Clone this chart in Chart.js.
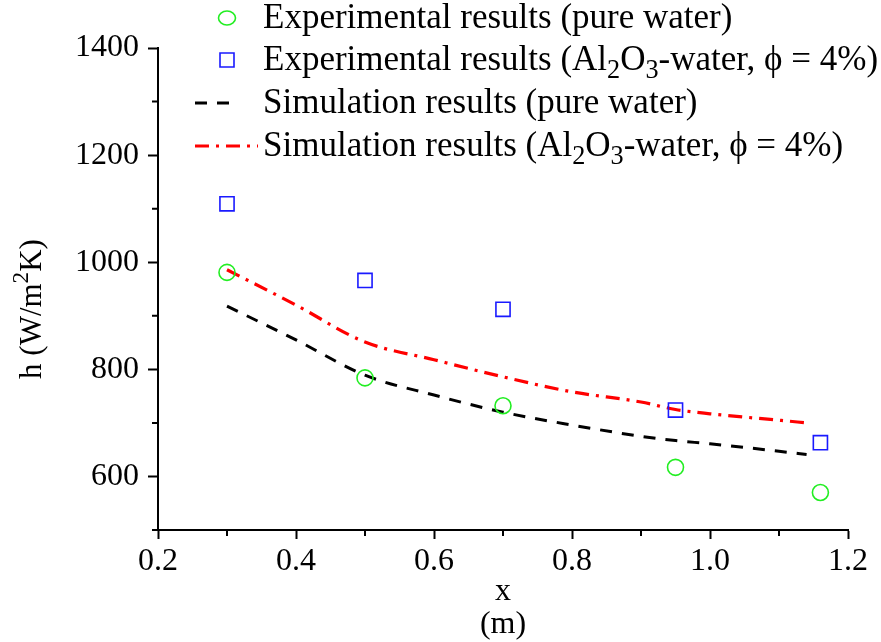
<!DOCTYPE html>
<html>
<head>
<meta charset="utf-8">
<script src="https://cdn.jsdelivr.net/npm/chart.js@4.4.1/dist/chart.umd.min.js"></script>
<style>
  html, body { margin: 0; padding: 0; background: #fff; }
  #wrap { width: 881px; height: 642px; }
</style>
</head>
<body>
<div id="wrap"><canvas id="hChart"></canvas></div>
<script>
// measured positions along the channel (m)
const xExp = [0.3, 0.5, 0.7, 0.95, 1.16];
const hExpWater = [981, 784, 732, 617, 570]; // green circles
const hExpAl2O3 = [1109, 966, 912, 724, 663]; // blue squares

// simulation curves
const xSim = [0.3, 0.4, 0.5, 0.6, 0.7, 0.8, 0.9, 0.95, 1.0, 1.1, 1.14];
const hSimWater = [918, 855, 789, 752, 720, 696, 675, 667, 661, 647, 641];
const hSimAl2O3 = [986, 920, 851, 818, 786, 758, 739, 725, 717, 705, 700];

// axis ticks
const xMajorTicks = [0.2, 0.4, 0.6, 0.8, 1.0, 1.2];
const xMinorTicks = [0.3, 0.5, 0.7, 0.9, 1.1];
const yMajorTicks = [600, 800, 1000, 1200, 1400];
const yMinorTicks = [500, 700, 900, 1100, 1300];

// "_" = subscript, "^" = superscript (next char)
const seriesLabels = [
  "Experimental results (pure water)",
  "Experimental results (Al_2O_3-water, \u03d5 = 4%)",
  "Simulation results (pure water)",
  "Simulation results (Al_2O_3-water, \u03d5 = 4%)"
];
const yTitle = "h (W/m^2K)";
const xTitle = ["x", "(m)"];

const FONT = '"Liberation Serif", "Times New Roman", serif';

const toPoints = (xs, ys) => xs.map((x, i) => ({ x: x, y: ys[i] }));

// draws text with sub/superscripts, returns width
function drawRich(ctx, text, x, y, size, measureOnly) {
  const parts = [];
  let buf = "";
  for (let i = 0; i < text.length; i++) {
    const c = text[i];
    if ((c === "_" || c === "^") && i + 1 < text.length) {
      if (buf) parts.push({ t: buf, s: 0 });
      parts.push({ t: text[i + 1], s: c === "_" ? 1 : -1 });
      buf = "";
      i++;
    } else buf += c;
  }
  if (buf) parts.push({ t: buf, s: 0 });
  let cx = x;
  parts.forEach((p) => {
    const fs = p.s ? size * 0.75 : size;
    ctx.font = fs + "px " + FONT;
    const off = p.s > 0 ? size * 0.28 : p.s < 0 ? -size * 0.36 : 0;
    if (!measureOnly) ctx.fillText(p.t, cx, y + off);
    cx += ctx.measureText(p.t).width;
  });
  return cx - x;
}

// minor ticks, legend and y title
const extras = {
  id: "extras",
  afterDraw(chart) {
    const { ctx, scales } = chart;
    const xs = scales.x, ys = scales.y;
    ctx.save();
    ctx.strokeStyle = "#000";
    ctx.lineWidth = 2;
    ctx.beginPath();
    xMinorTicks.forEach((v) => {
      const px = xs.getPixelForValue(v);
      ctx.moveTo(px, xs.top);
      ctx.lineTo(px, xs.top + 6);
    });
    yMinorTicks.forEach((v) => {
      const py = ys.getPixelForValue(v);
      ctx.moveTo(ys.right, py);
      ctx.lineTo(ys.right - 6, py);
    });
    ctx.stroke();

    // legend
    const rows = [18, 60, 103, 146];
    ctx.fillStyle = "#000";
    ctx.textBaseline = "middle";
    chart.data.datasets.forEach((ds, i) => {
      const y = rows[i];
      ctx.strokeStyle = ds.borderColor;
      if (ds.showLine === false) {
        ctx.lineWidth = ds.borderWidth;
        ctx.setLineDash([]);
        ctx.beginPath();
        if (ds.pointStyle === "rect") {
          ctx.rect(227 - 7, y - 7, 14, 14);
        } else {
          ctx.ellipse(227, y, 8.5, 7, 0, 0, Math.PI * 2);
        }
        ctx.stroke();
      } else {
        ctx.lineWidth = 3;
        ctx.setLineDash(ds.borderDash);
        ctx.beginPath();
        ctx.moveTo(195, y);
        ctx.lineTo(i === 2 ? 236 : 258, y);
        ctx.stroke();
        ctx.setLineDash([]);
      }
      ctx.fillStyle = "#000";
      drawRich(ctx, seriesLabels[i], 263, y + 1, 35);
    });

    // y axis title
    const cy = (chart.chartArea.top + chart.chartArea.bottom) / 2 + 20;
    ctx.translate(33, cy);
    ctx.rotate(-Math.PI / 2);
    const w = drawRich(ctx, yTitle, 0, 0, 31, true);
    drawRich(ctx, yTitle, -w / 2, 0, 31);
    ctx.restore();
  }
};

const ctx = document.getElementById("hChart").getContext("2d");
new Chart(ctx, {
  type: "scatter",
  data: {
    datasets: [
      {
        label: "Experimental results (pure water)",
        data: toPoints(xExp, hExpWater),
        showLine: false,
        pointStyle: "circle",
        pointRadius: 8,
        borderColor: "#22ee22",
        backgroundColor: "transparent",
        borderWidth: 1.6
      },
      {
        label: "Experimental results (Al2O3-water)",
        data: toPoints(xExp, hExpAl2O3),
        showLine: false,
        pointStyle: "rect",
        pointRadius: 10,
        borderColor: "#1a1aff",
        backgroundColor: "transparent",
        borderWidth: 1.6
      },
      {
        label: "Simulation results (pure water)",
        data: toPoints(xSim, hSimWater),
        showLine: true,
        pointRadius: 0,
        borderColor: "#000",
        borderWidth: 3,
        borderDash: [12, 10],
        cubicInterpolationMode: "monotone",
        fill: false
      },
      {
        label: "Simulation results (Al2O3-water)",
        data: toPoints(xSim, hSimAl2O3),
        showLine: true,
        pointRadius: 0,
        borderColor: "#ff0000",
        borderWidth: 3.2,
        borderDash: [14, 7, 3, 7],
        cubicInterpolationMode: "monotone",
        fill: false
      }
    ]
  },
  options: {
    responsive: true,
    maintainAspectRatio: false,
    animation: false,
    layout: { padding: { left: 75, right: 33, top: 48, bottom: 0 } },
    plugins: {
      legend: { display: false },
      tooltip: { enabled: false }
    },
    scales: {
      x: {
        type: "linear",
        min: 0.2,
        max: 1.2,
        afterBuildTicks: (scale) => { scale.ticks = xMajorTicks.map((v) => ({ value: v })); },
        afterFit: (scale) => { scale.height = 112; },
        border: { color: "#000", width: 2 },
        grid: { drawOnChartArea: false, tickLength: 9, tickWidth: 2, tickColor: "#000" },
        ticks: {
          color: "#000",
          font: { family: FONT, size: 32 },
          padding: 3,
          maxRotation: 0,
          callback: (v) => Number(v).toFixed(1)
        },
        title: {
          display: true,
          text: xTitle,
          color: "#000",
          font: { family: FONT, size: 32, lineHeight: 1.06 },
          padding: { top: 0, bottom: 0 }
        }
      },
      y: {
        type: "linear",
        min: 500,
        max: 1400,
        afterBuildTicks: (scale) => { scale.ticks = yMajorTicks.map((v) => ({ value: v })); },
        afterFit: (scale) => { scale.width = 83; },
        border: { color: "#000", width: 2 },
        grid: { drawOnChartArea: false, tickLength: 10, tickWidth: 2, tickColor: "#000" },
        ticks: {
          color: "#000",
          font: { family: FONT, size: 32 },
          padding: 9,
          callback: (v) => String(v)
        }
      }
    }
  },
  plugins: [extras]
});
</script>
</body>
</html>
